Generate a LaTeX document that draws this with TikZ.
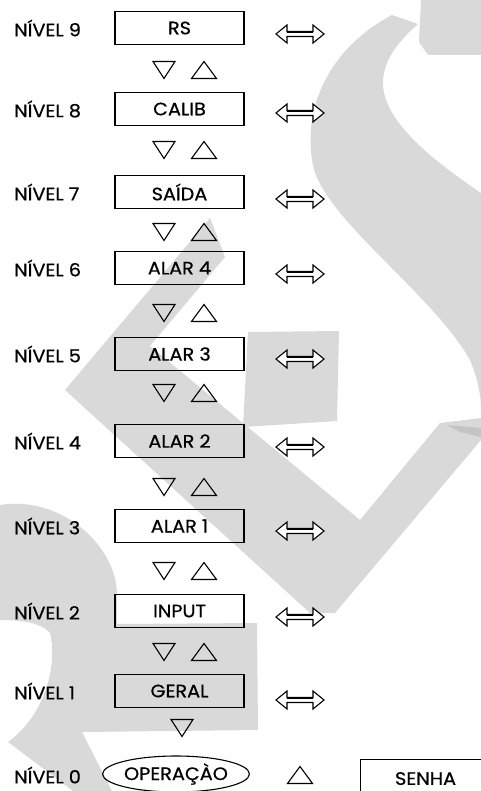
\documentclass[tikz,border=0pt]{standalone}
\usepackage{fontspec}
\setmainfont{Poppins}[FakeBold=0.6,FakeStretch=1.07]
\usetikzlibrary{shapes.geometric}
\definecolor{marca}{RGB}{217,217,217}
\definecolor{marcaesc}{RGB}{196,196,196}
\begin{document}
\begin{tikzpicture}[x=1pt,y=1pt]
  \tikzstyle{nivel}=[anchor=west,inner sep=0pt,font=\fontsize{18}{18}\selectfont]
  \tikzstyle{caixa}=[draw,line width=1.1pt,minimum width=129pt,minimum height=33pt,
    inner sep=0pt,font=\fontsize{18}{18}\selectfont]
  \tikzstyle{oval}=[caixa,ellipse,minimum width=128pt,minimum height=36pt]
  \tikzstyle{tri}=[line width=1.1pt,line join=miter]
  \tikzset{
    dupla/.pic={\draw[line width=1.1pt,fill=white,line join=miter]
      (-24,0) -- (-13,9) -- (-13,2.5) -- (13,2.5) -- (13,9) -- (24,0)
      -- (13,-9) -- (13,-2.5) -- (-13,-2.5) -- (-13,-9) -- cycle;
      \draw[line width=1.6pt] (-13,1.6) -- (13,1.6);},
    desce/.pic={\draw[tri] (-11,8.5) -- (11,8.5) -- (0,-8.5) -- cycle;},
    sobe/.pic={\draw[tri] (-12.5,-8.5) -- (12.5,-8.5) -- (0,8.5) -- cycle;}
  }
  \useasboundingbox (0,0) rectangle (481,-791);
  % marca d'agua
  \fill[marca] (421,0) -- (481,0) -- (481,-55) -- (428,-55) -- (419,-42) -- cycle;
  \fill[marca] (392,-15) .. controls (335,-45) and (303,-100) .. (312,-160)
    .. controls (318,-215) and (430,-290) .. (470,-360)
    .. controls (478,-380) and (481,-395) .. (481,-410) -- (481,-193)
    .. controls (440,-165) and (385,-125) .. (383,-85)
    .. controls (382,-60) and (400,-40) .. (418,-24) -- cycle;
  \fill[marca] (210,-218) -- (65,-390) -- (310,-613) -- (335,-613) -- (481,-440)
    -- (481,-418) -- (440,-423) -- (360,-520) -- (150,-346) -- (225,-257) -- cycle;
  \fill[marcaesc] (447,-425) -- (481,-428) -- (481,-437) -- (460,-432) -- cycle;
  \fill[marca] (248,-332) -- (339,-331) -- (337,-421) -- (243,-427) -- cycle;
  \fill[marca] (0,-505) .. controls (60,-495) and (117,-545) .. (117,-595)
    -- (117,-624) -- (257,-623) -- (258,-730) -- (82,-732) -- (112,-791)
    -- (73,-791) -- (8,-742) .. controls (45,-715) and (58,-665) .. (50,-633)
    .. controls (40,-622) and (20,-620) .. (0,-620) -- cycle;
  % niveis
  \foreach \n/\t/\y/\a in {9/RS/28/34, 8/CALIB/109/113, 7/SAÍDA/192/199,
      6/ALAR 4/268/274, 5/ALAR 3/354/359, 4/ALAR 2/441/447,
      3/ALAR 1/526/531, 2/INPUT/611/617, 1/GERAL/691/700}
  {
    \node[caixa] (c\n) at (179.5,-\y) {\t};
    \node[nivel] (n\n) at (14,-\y) {NÍVEL \n};
    \pic at (300,-\a) {dupla};
  }
  \foreach \y in {70,150,232,313,393,487,571,652}
  {
    \pic at (164,-\y) {desce};
    \pic at (204,-\y) {sobe};
  }
  \pic at (182,-728) {desce};
  \node[nivel] (n0) at (14,-775) {NÍVEL 0};
  \node[oval] (op) at (176,-774) {OPERAÇÀO};
  \pic at (300,-775) {sobe};
  \node[caixa,anchor=north west,minimum width=130pt,minimum height=38pt,
    text width=130pt,align=center] (senha) at (360,-759) {\raisebox{-2pt}{SENHA}};
\end{tikzpicture}
\end{document}
